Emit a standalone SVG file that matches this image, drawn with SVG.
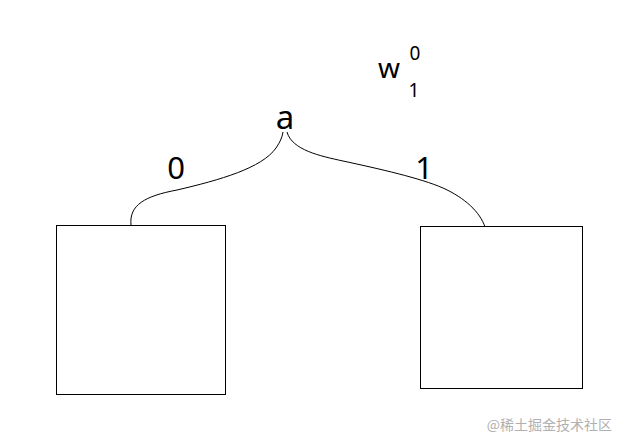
<svg xmlns="http://www.w3.org/2000/svg" width="626" height="446" viewBox="0 0 626 446">
<style>
.box{fill:#fff;stroke:#000;stroke-width:1}
.edge{fill:none;stroke:#000;stroke-width:1}
.t{font-family:"Noto Sans","Open Sans",sans-serif;fill:#000}
</style>
<rect width="626" height="446" fill="#fff"/>
<g id="connectors">
<path class="edge" d="M131,225 C129,205 145,196 177,190 C220,180 262,168 276,148 C280,142 282,138 283,132"/>
<path class="edge" d="M287,132 C292,150 320,156 343,161 C380,169 420,178 443,188 C465,198 480,212 485,227"/>
</g>
<g id="node-a"><text class="t" x="285" y="129" font-size="33" text-anchor="middle">a</text></g>
<g id="label-0"><text class="t" x="176" y="179" font-size="31" text-anchor="middle">0</text></g>
<g id="label-1"><text class="t" x="424" y="179" font-size="31" text-anchor="middle">1</text></g>
<g id="weight">
<text class="t" x="389" y="78" font-size="28" text-anchor="middle">w</text>
<text class="t" x="415" y="60" font-size="19" text-anchor="middle">0</text>
<text class="t" x="414" y="97" font-size="19" text-anchor="middle">1</text>
</g>
<g id="left-box"><rect class="box" x="56.5" y="225.5" width="169" height="169"/></g>
<g id="right-box"><rect class="box" x="420.5" y="226.5" width="162" height="162"/></g>
<text x="612" y="430" font-size="14" text-anchor="end" fill="#b0b0b0" font-family="'Noto Sans CJK SC',sans-serif">@稀土掘金技术社区</text>
</svg>
